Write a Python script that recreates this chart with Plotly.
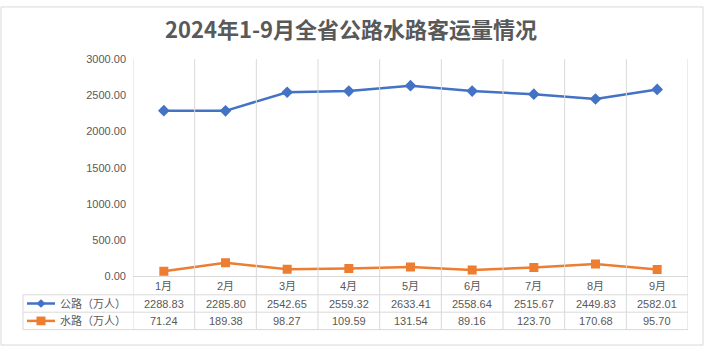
import plotly.graph_objects as go

months = ["1月", "2月", "3月", "4月", "5月", "6月", "7月", "8月", "9月"]
road = [2288.83, 2285.80, 2542.65, 2559.32, 2633.41, 2558.64, 2515.67, 2449.83, 2582.01]
water = [71.24, 189.38, 98.27, 109.59, 131.54, 89.16, 123.70, 170.68, 95.70]
series_names = ["公路（万人）", "水路（万人）"]
yticks = [0, 500, 1000, 1500, 2000, 2500, 3000]
title = "2024年1-9月全省公路水路客运量情况"

W, H = 704, 352
BLUE = "#4472C4"
ORANGE = "#ED7D31"
TXT = "#595959"
GRID = "#D9D9D9"
FONT = "Liberation Sans, Noto Sans CJK SC, sans-serif"

def px(x):
    return x / W

def py(y):
    return 1 - y / H

X0, X1 = 133, 688
Y0, Y1 = 55, 280
idx = list(range(len(months)))

fig = go.Figure()
fig.add_trace(go.Scatter(x=idx, y=road, mode="lines+markers", name=series_names[0],
                         line=dict(color=BLUE, width=2.5),
                         marker=dict(symbol="diamond", size=9, color=BLUE)))
fig.add_trace(go.Scatter(x=idx, y=water, mode="lines+markers", name=series_names[1],
                         line=dict(color=ORANGE, width=2.5),
                         marker=dict(symbol="square", size=9, color=ORANGE)))

shapes = []
shapes.append(dict(type="rect", xref="paper", yref="paper", x0=px(1), x1=px(703), y0=py(1), y1=py(351),
                   line=dict(color=GRID, width=1)))
row_lines = [299, 317, 335]
for ry in row_lines:
    shapes.append(dict(type="line", xref="paper", yref="paper", x0=px(23), x1=px(X1), y0=py(ry), y1=py(ry),
                       line=dict(color=GRID, width=1)))
shapes.append(dict(type="line", xref="paper", yref="paper", x0=px(23), x1=px(23), y0=py(299), y1=py(335),
                   line=dict(color=GRID, width=1)))
for i in range(len(months) + 1):
    xb = i - 0.5
    shapes.append(dict(type="line", xref="x", yref="paper", x0=xb, x1=xb, y0=py(Y0), y1=py(335),
                       line=dict(color=GRID, width=1)))
for ry, col, kind in [(308, BLUE, "diamond"), (326, ORANGE, "square")]:
    shapes.append(dict(type="line", xref="paper", yref="paper", x0=px(27), x1=px(55), y0=py(ry), y1=py(ry),
                       line=dict(color=col, width=2.5)))
    cx = 41
    d = 4.5
    if kind == "diamond":
        path = f"M {px(cx-d)} {py(ry)} L {px(cx)} {py(ry-d)} L {px(cx+d)} {py(ry)} L {px(cx)} {py(ry+d)} Z"
        shapes.append(dict(type="path", xref="paper", yref="paper", path=path, fillcolor=col, line=dict(color=col, width=0)))
    else:
        shapes.append(dict(type="rect", xref="paper", yref="paper", x0=px(cx-d), x1=px(cx+d), y0=py(ry-d), y1=py(ry+d),
                           fillcolor=col, line=dict(color=col, width=0)))

annotations = []
for i, m in enumerate(months):
    annotations.append(dict(x=i, y=py(290), xref="x", yref="paper", text=m, showarrow=False,
                            font=dict(size=11, color=TXT, family=FONT), xanchor="center", yanchor="middle"))
for ry, vals in [(308, road), (326, water)]:
    for i, v in enumerate(vals):
        annotations.append(dict(x=i, y=py(ry), xref="x", yref="paper", text=f"{v:.2f}", showarrow=False,
                                font=dict(size=11, color=TXT, family=FONT), xanchor="center", yanchor="middle"))
for ry, name in [(308, series_names[0]), (326, series_names[1])]:
    annotations.append(dict(x=px(58), y=py(ry), xref="paper", yref="paper", text=name, showarrow=False,
                            font=dict(size=11, color=TXT, family=FONT), xanchor="left", yanchor="middle"))
annotations.append(dict(x=px(351), y=py(23), xref="paper", yref="paper", text=f"<b>{title}</b>", showarrow=False,
                        font=dict(size=22, color=TXT, family="Noto Sans CJK SC, sans-serif"),
                        xanchor="center", yanchor="middle"))

fig.update_layout(
    width=W, height=H, autosize=False,
    margin=dict(l=0, r=0, t=0, b=0),
    paper_bgcolor="white", plot_bgcolor="white",
    showlegend=False,
    shapes=shapes, annotations=annotations,
    xaxis=dict(domain=[px(X0), px(X1)], range=[-0.5, len(months) - 0.5],
               showticklabels=False, showgrid=False, zeroline=False, ticks="",
               showline=True, linecolor=GRID, linewidth=1, fixedrange=True),
    yaxis=dict(domain=[py(Y1), py(Y0)], range=[0, 3000], tickvals=yticks, tickformat=".2f",
               showgrid=False, zeroline=False, showline=False, ticks="",
               tickfont=dict(size=11, color=TXT, family=FONT), ticklabelstandoff=6),
)

fig.write_html("out.html")
